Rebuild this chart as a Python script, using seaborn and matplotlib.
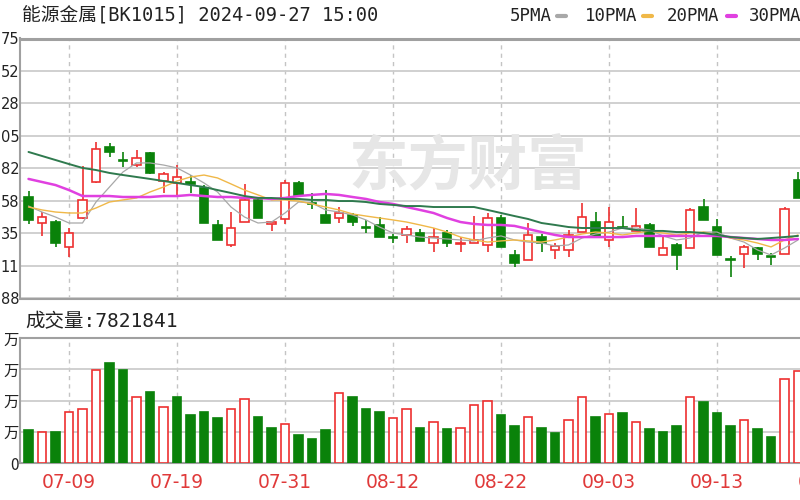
import matplotlib
matplotlib.use("Agg")
import matplotlib.pyplot as plt
from matplotlib.lines import Line2D
import numpy as np
import seaborn as sns

# trading days shown on the chart (last two are off the right edge)
dates = ['07-04', '07-05', '07-08', '07-09', '07-10', '07-11', '07-12', '07-15', '07-16', '07-17',
         '07-18', '07-19', '07-22', '07-23', '07-24', '07-25', '07-26', '07-29', '07-30', '07-31',
         '08-01', '08-02', '08-05', '08-06', '08-07', '08-08', '08-09', '08-12', '08-13', '08-14',
         '08-15', '08-16', '08-19', '08-20', '08-21', '08-22', '08-23', '08-26', '08-27', '08-28',
         '08-29', '08-30', '09-02', '09-03', '09-04', '09-05', '09-06', '09-09', '09-10', '09-11',
         '09-12', '09-13', '09-18', '09-19', '09-20', '09-23', '09-24', '09-25', '09-26', '09-27']

opens = [961.0, 942.3, 943.0, 925.1, 945.9, 971.8, 997.0, 987.6, 984.0, 992.7,
         972.5, 971.1, 971.8, 967.5, 940.9, 926.5, 943.0, 958.9, 941.6, 945.2,
         971.1, 956.7, 948.1, 945.9, 948.1, 939.4, 940.9, 932.2, 933.7, 935.1,
         927.9, 935.1, 927.2, 927.9, 926.5, 945.9, 919.3, 915.7, 932.2, 922.9,
         922.9, 935.8, 943.0, 930.1, 939.4, 936.6, 940.9, 919.3, 926.5, 924.3,
         953.8, 939.4, 916.4, 920.0, 924.3, 918.6, 920.0, 973.2]
closes = [944.5, 946.6, 927.9, 935.1, 958.9, 995.5, 993.4, 986.9, 989.1, 978.3,
          977.6, 975.4, 970.4, 942.3, 930.1, 938.7, 958.9, 945.9, 943.0, 971.1,
          962.5, 956.0, 942.3, 949.5, 943.0, 938.7, 932.2, 931.5, 938.0, 929.4,
          932.2, 927.9, 927.9, 930.1, 945.9, 925.1, 913.5, 933.7, 927.9, 925.8,
          933.7, 946.6, 933.0, 943.0, 938.7, 940.2, 925.1, 924.3, 919.3, 951.7,
          944.5, 919.3, 915.7, 925.1, 920.0, 917.9, 952.4, 960.3]
highs = [965.3, 950.2, 944.5, 938.7, 983.3, 1000.6, 999.9, 993.4, 994.8, 993.4,
         979.0, 984.0, 976.8, 969.6, 944.5, 950.2, 970.4, 960.3, 943.0, 973.2,
         972.5, 963.9, 966.0, 953.8, 949.5, 944.5, 946.6, 934.4, 940.2, 938.0,
         938.7, 937.3, 932.2, 947.3, 949.5, 948.1, 922.9, 942.3, 934.4, 927.9,
         937.3, 956.7, 950.2, 953.8, 947.3, 953.1, 942.3, 932.2, 927.9, 953.1,
         959.6, 945.2, 918.6, 926.5, 925.1, 920.7, 953.8, 979.0]
lows = [941.6, 933.0, 925.1, 917.9, 945.2, 971.1, 989.8, 982.6, 982.6, 977.6,
        963.9, 962.5, 963.9, 942.3, 930.1, 925.1, 943.0, 945.9, 936.6, 941.6,
        962.5, 952.4, 942.3, 942.3, 940.2, 935.1, 932.2, 927.9, 927.9, 929.4,
        921.5, 925.1, 921.5, 927.9, 921.5, 925.1, 910.7, 915.7, 921.5, 916.4,
        917.9, 935.8, 933.0, 925.1, 938.7, 936.6, 925.1, 919.3, 908.5, 924.3,
        944.5, 919.3, 903.5, 910.0, 915.7, 912.1, 920.0, 960.3]

ma5 = [954.5, 950.2, 946.6, 942.3, 942.3, 957.4, 968.2, 979.0, 985.5, 985.5,
       984.0, 981.9, 976.8, 971.1, 964.6, 953.8, 946.6, 942.3, 943.0, 949.5,
       957.4, 956.7, 951.7, 950.2, 948.1, 944.5, 939.4, 935.1, 933.7, 932.2,
       931.5, 930.8, 930.1, 929.4, 931.5, 933.0, 930.1, 928.6, 927.9, 925.8,
       926.5, 931.5, 934.4, 935.8, 938.7, 938.7, 937.3, 933.0, 930.1, 931.5,
       935.8, 935.8, 931.5, 928.6, 922.9, 919.3, 924.3, 930.1]
ma10 = [953.8, 951.7, 950.2, 949.5, 949.5, 953.1, 957.4, 958.9, 960.3, 964.6,
        968.2, 972.5, 975.4, 976.8, 974.7, 970.4, 966.0, 962.5, 958.9, 958.9,
        958.1, 956.0, 953.8, 951.7, 948.8, 947.3, 945.9, 944.5, 943.0, 940.9,
        938.7, 935.8, 932.2, 930.1, 928.6, 929.4, 930.1, 929.4, 928.6, 930.1,
        932.2, 934.4, 935.8, 935.1, 933.7, 935.1, 936.6, 935.1, 933.7, 935.1,
        935.8, 933.7, 931.5, 930.1, 927.9, 925.1, 930.1, 933.7]
ma20 = [974.0, 971.8, 969.6, 966.0, 961.7, 961.7, 961.7, 961.0, 961.0, 961.0,
        961.7, 961.7, 962.5, 961.7, 961.0, 961.0, 960.3, 960.3, 959.6, 960.3,
        961.7, 962.5, 963.2, 962.5, 961.0, 959.6, 957.4, 956.0, 953.8, 951.7,
        949.5, 945.9, 943.0, 941.6, 940.9, 940.9, 940.2, 938.0, 935.8, 933.7,
        932.2, 932.2, 932.2, 932.2, 932.2, 933.0, 933.0, 933.0, 933.0, 933.0,
        933.0, 933.0, 932.2, 931.5, 930.8, 930.1, 930.1, 930.8]
ma30 = [993.4, 990.5, 987.6, 984.7, 981.9, 980.4, 978.3, 976.8, 975.4, 974.0,
        972.5, 971.1, 969.6, 968.2, 966.0, 963.9, 961.7, 960.3, 960.3, 959.6,
        959.6, 958.9, 958.9, 958.1, 958.1, 957.4, 956.0, 955.3, 954.5, 954.5,
        953.8, 953.8, 953.8, 953.8, 951.7, 949.5, 947.3, 945.2, 942.3, 940.9,
        939.4, 938.7, 938.7, 938.7, 938.7, 937.3, 936.6, 936.6, 935.8, 935.8,
        935.1, 933.7, 932.2, 931.5, 930.8, 931.5, 932.2, 933.0]

# volume in 万
volume = [262, 250, 250, 410, 430, 742, 800, 742, 525, 570,
          445, 525, 382, 410, 358, 430, 510, 370, 282, 312,
          222, 192, 262, 558, 525, 430, 410, 358, 430, 282,
          325, 270, 282, 468, 498, 382, 298, 370, 282, 238,
          342, 525, 370, 390, 398, 325, 270, 250, 298, 525,
          485, 398, 298, 342, 270, 210, 675, 738]
# 1 = up day (red), 0 = down day (green)
vol_up = [0, 1, 0, 1, 1, 1, 0, 0, 1, 0,
          1, 0, 0, 0, 0, 1, 1, 0, 0, 1,
          0, 0, 0, 1, 0, 0, 0, 1, 1, 0,
          1, 0, 1, 1, 1, 0, 0, 1, 0, 0,
          1, 1, 0, 1, 0, 1, 0, 0, 0, 1,
          0, 0, 0, 1, 0, 0, 1, 1]

price_ticks = [888, 911.4, 934.75, 958.1, 981.5, 1004.9, 1028.25, 1051.6, 1075]
price_labels = ['88', '11', '35', '58', '82', '05', '28', '52', '75']
vol_ticks = [0, 250, 500, 750, 1000]
vol_labels = ['0', '万', '万', '万', '万']

ma_names = ['5PMA', '10PMA', '20PMA', '30PMA']
ma_colors = ['#a8a8a8', '#f0b848', '#e040e0', '#2f7a4e']

title = '能源金属[BK1015] 2024-09-27 15:00'
vol_title = '成交量:7821841'

RED = '#ee3030'
GREEN = '#0a820a'
CJK = ['Noto Sans CJK SC', 'DejaVu Sans']
MONO = ['DejaVu Sans Mono', 'Noto Sans CJK SC']

sns.set_theme(style='white')
plt.rcParams['font.family'] = CJK

fig = plt.figure(figsize=(8, 5), dpi=100)
ax = fig.add_axes([20 / 800, 1 - 298.5 / 500, 820 / 800, 260 / 500])
axv = fig.add_axes([20 / 800, 1 - 463 / 500, 820 / 800, 125 / 500])

x = np.arange(len(closes))
o = np.array(opens)
c = np.array(closes)
up = c >= o
col = np.where(up, RED, GREEN)

# candles
ax.vlines(x, lows, highs, colors=col, lw=1.2, zorder=3)
body_lo = np.minimum(o, c)
body_h = np.maximum(np.abs(c - o), 0.5)
ax.bar(x, body_h, bottom=body_lo, width=0.6, color=np.where(up, 'white', GREEN),
       edgecolor=col, linewidth=1.2, zorder=4)

# moving averages
for vals, clr, lw in zip([ma5, ma10, ma20, ma30], ma_colors, [0.9, 1.0, 1.8, 1.4]):
    sns.lineplot(x=x, y=vals, ax=ax, color=clr, lw=lw, legend=False, zorder=5)

# volume
vup = np.array(vol_up) == 1
axv.bar(x, volume, width=0.62, color=np.where(vup, 'white', GREEN),
        edgecolor=np.where(vup, RED, GREEN), linewidth=1.2, zorder=3)

tick_idx = list(range(3, len(dates), 8))
for a in (ax, axv):
    a.set_xlim(-0.63, 60.11)
    a.set_xticks(tick_idx)
    a.grid(axis='x', color='#c4c4c4', ls=(0, (3, 3)), lw=1.0)
    a.grid(axis='y', color='#cdcdcd', lw=1.3)
    a.tick_params(length=0)
    for s in a.spines.values():
        s.set_color('#a0a0a0')
        s.set_linewidth(1.5)
    a.set_xlabel('')
    a.set_ylabel('')
ax.spines['top'].set_linewidth(2.2)

ax.set_ylim(888, 1075)
ax.set_yticks(price_ticks)
ax.set_yticklabels(price_labels, fontsize=10.5, color='#222222', family='DejaVu Sans')
ax.tick_params(axis='y', pad=0.5)
ax.set_xticklabels([])

axv.set_ylim(0, 1000)
axv.set_yticks(vol_ticks)
axv.set_yticklabels(vol_labels, fontsize=11, color='#222222')
axv.tick_params(axis='y', pad=1)
axv.set_xticklabels([dates[i] for i in tick_idx], fontsize=13.5, color='#e03a3a',
                    family='DejaVu Sans')
axv.tick_params(axis='x', pad=7)

# watermark
ax.text(0.585, 0.664, '东方财富', transform=fig.transFigure, fontsize=43,
        color='#e6e6e6', fontweight='bold', ha='center', va='center', zorder=1)

# texts
fig.text(22 / 800, 1 - 16 / 500, title, fontsize=13.5, color='#222222', va='center', family=MONO)
fig.text(25 / 800, 1 - 322 / 500, vol_title, fontsize=14, color='#222222', va='center', family=MONO)

label_x = [510, 585, 667, 749]
dash_x = [557, 643, 727]
for i, name in enumerate(ma_names):
    fig.text(label_x[i] / 800, 1 - 16 / 500, name, fontsize=12.5, color='#222222',
             va='center', family=MONO)
    if i < len(dash_x):
        fig.add_artist(Line2D([dash_x[i] / 800, (dash_x[i] + 9) / 800],
                              [1 - 16 / 500, 1 - 16 / 500], color=ma_colors[i], lw=3))

fig.savefig('out.png', dpi=100)
